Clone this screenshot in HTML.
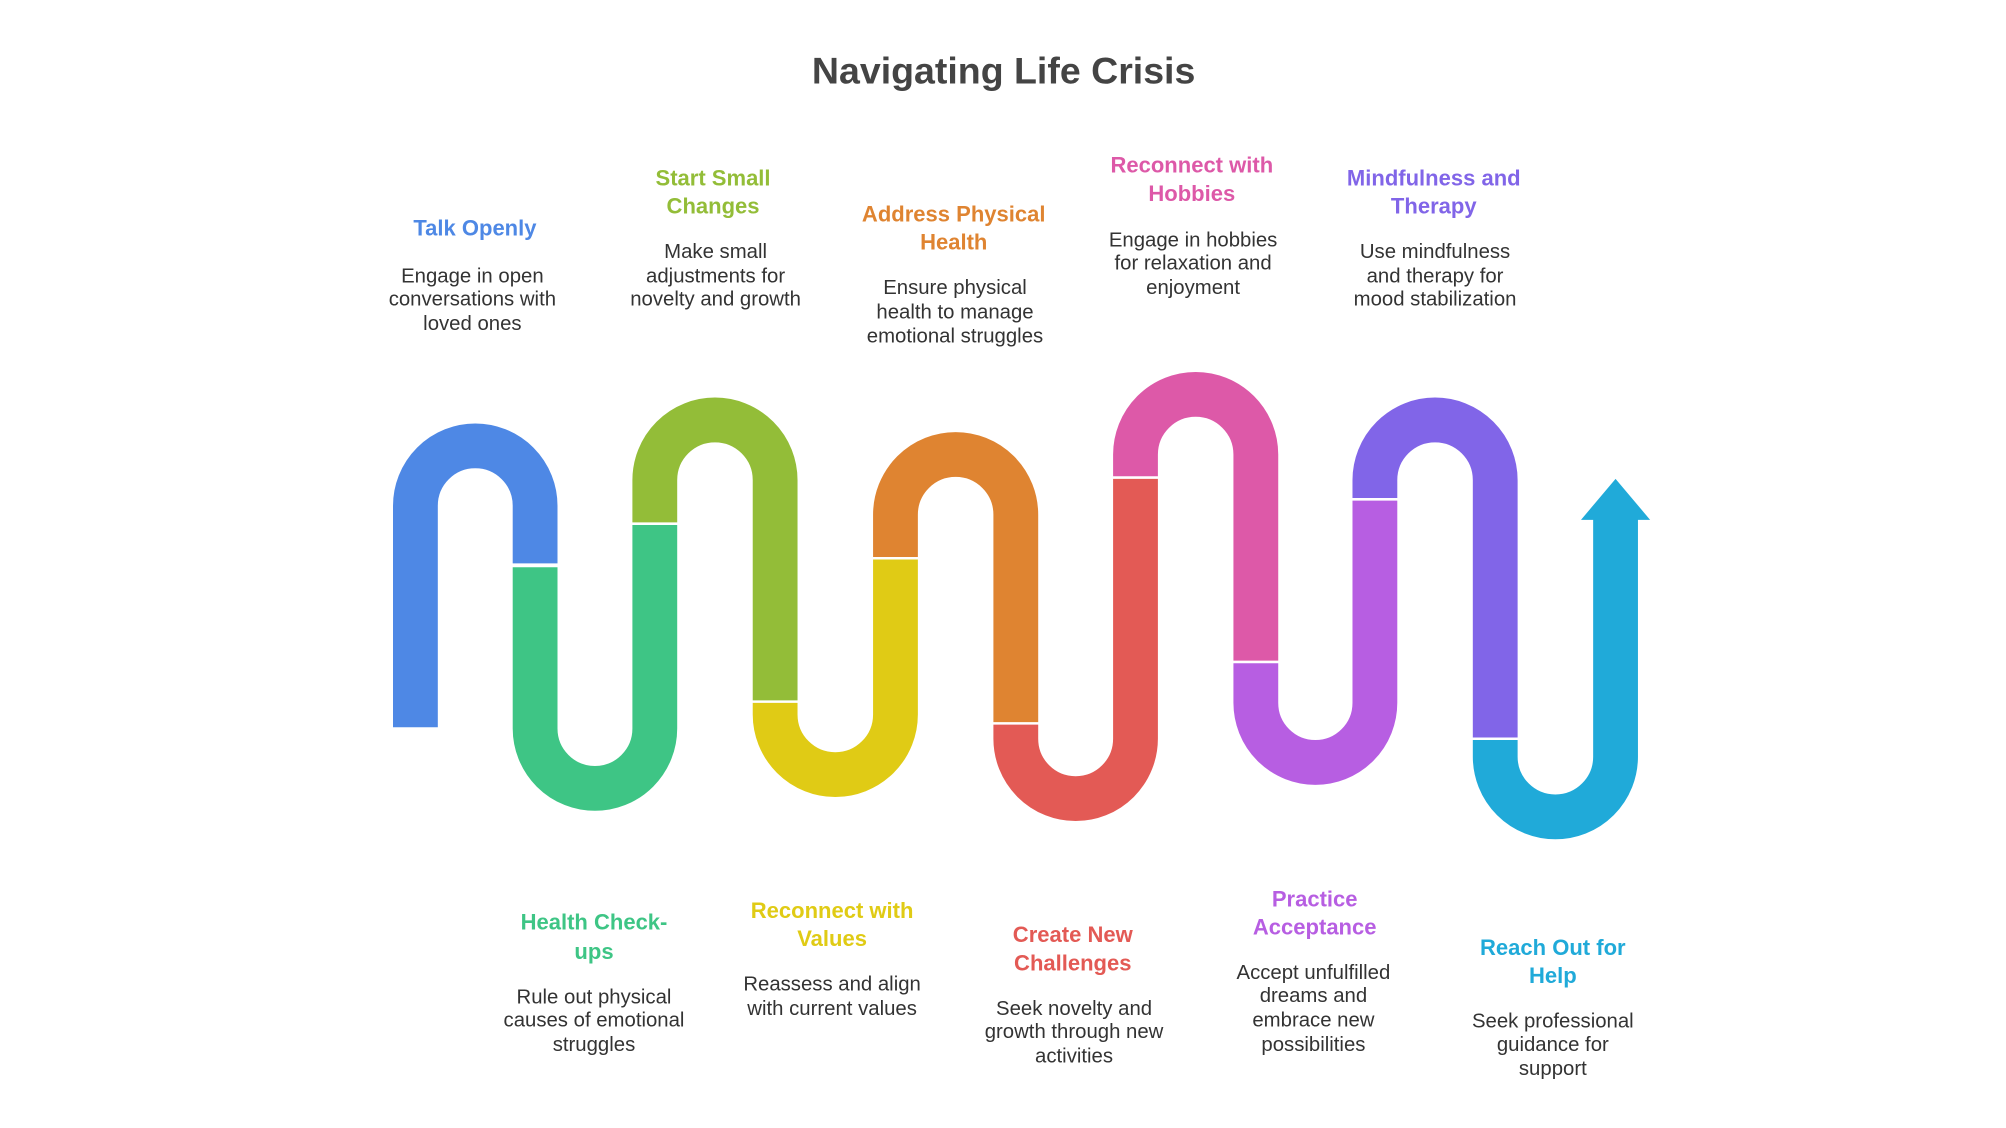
<!DOCTYPE html>
<html><head><meta charset="utf-8"><style>
html,body{margin:0;padding:0;background:#fff;}
svg{display:block;}
text{font-family:"Liberation Sans",sans-serif;text-anchor:middle;dominant-baseline:central;}
.t{font-weight:bold;font-size:17.2px;}
.b{font-size:15.9px;fill:#333;}
</style></head><body>
<svg width="2006" height="1128" viewBox="0 0 1567 881" preserveAspectRatio="none" xmlns="http://www.w3.org/2000/svg">
<text x="784" y="55" style="font-weight:bold;font-size:29.3px;fill:#444">Navigating Life Crisis</text>
<g fill="none" stroke-width="35" stroke-linecap="butt">
<path d="M324.5 568 V395 A46.75 46.75 0 0 1 418 395 V440" stroke="#4E88E5"/>
<path d="M418 443 V569 A46.75 46.75 0 0 0 511.5 569 V410" stroke="#3EC585"/>
<path d="M511.5 408 V375 A47 47 0 0 1 605.5 375 V547" stroke="#93BD38"/>
<path d="M605.5 549 V558 A47 47 0 0 0 699.5 558 V437" stroke="#E0CB15"/>
<path d="M699.5 435 V402 A47 47 0 0 1 793.5 402 V564" stroke="#DF8431"/>
<path d="M793.5 566 V577 A46.75 46.75 0 0 0 887 577 V374" stroke="#E35A55"/>
<path d="M887 372 V355 A47 47 0 0 1 981 355 V516" stroke="#DD59A8"/>
<path d="M981 518 V549 A46.5 46.5 0 0 0 1074 549 V391" stroke="#B75EE2"/>
<path d="M1074 389 V375 A47 47 0 0 1 1168 375 V576" stroke="#8165E8"/>
<path d="M1168 578 V591 A47 47 0 0 0 1262 591 V405" stroke="#20AAD9"/>
</g>
<polygon points="1235,406 1262,374 1289,406" fill="#20AAD9"/>

<text class="t" x="371" y="178" fill="#4E88E5">Talk Openly</text>
<text class="b" x="369" y="216">Engage in open</text>
<text class="b" x="369" y="234">conversations with</text>
<text class="b" x="369" y="253">loved ones</text>

<text class="t" x="557" y="139" fill="#93BD38">Start Small</text>
<text class="t" x="557" y="161" fill="#93BD38">Changes</text>
<text class="b" x="559" y="197">Make small</text>
<text class="b" x="559" y="216">adjustments for</text>
<text class="b" x="559" y="234">novelty and growth</text>

<text class="t" x="745" y="167" fill="#DF8431">Address Physical</text>
<text class="t" x="745" y="189" fill="#DF8431">Health</text>
<text class="b" x="746" y="225">Ensure physical</text>
<text class="b" x="746" y="244">health to manage</text>
<text class="b" x="746" y="263">emotional struggles</text>

<text class="t" x="931" y="129" fill="#DD59A8">Reconnect with</text>
<text class="t" x="931" y="151" fill="#DD59A8">Hobbies</text>
<text class="b" x="932" y="188">Engage in hobbies</text>
<text class="b" x="932" y="206">for relaxation and</text>
<text class="b" x="932" y="225">enjoyment</text>

<text class="t" x="1120" y="139" fill="#8165E8">Mindfulness and</text>
<text class="t" x="1120" y="161" fill="#8165E8">Therapy</text>
<text class="b" x="1121" y="197">Use mindfulness</text>
<text class="b" x="1121" y="216">and therapy for</text>
<text class="b" x="1121" y="234">mood stabilization</text>

<text class="t" x="464" y="720" fill="#3EC585">Health Check-</text>
<text class="t" x="464" y="743" fill="#3EC585">ups</text>
<text class="b" x="464" y="779">Rule out physical</text>
<text class="b" x="464" y="797">causes of emotional</text>
<text class="b" x="464" y="816">struggles</text>

<text class="t" x="650" y="711" fill="#E0CB15">Reconnect with</text>
<text class="t" x="650" y="733" fill="#E0CB15">Values</text>
<text class="b" x="650" y="769">Reassess and align</text>
<text class="b" x="650" y="788">with current values</text>

<text class="t" x="838" y="730" fill="#E35A55">Create New</text>
<text class="t" x="838" y="752" fill="#E35A55">Challenges</text>
<text class="b" x="839" y="788">Seek novelty and</text>
<text class="b" x="839" y="806">growth through new</text>
<text class="b" x="839" y="825">activities</text>

<text class="t" x="1027" y="702" fill="#B75EE2">Practice</text>
<text class="t" x="1027" y="724" fill="#B75EE2">Acceptance</text>
<text class="b" x="1026" y="760">Accept unfulfilled</text>
<text class="b" x="1026" y="778">dreams and</text>
<text class="b" x="1026" y="797">embrace new</text>
<text class="b" x="1026" y="816">possibilities</text>

<text class="t" x="1213" y="740" fill="#20AAD9">Reach Out for</text>
<text class="t" x="1213" y="762" fill="#20AAD9">Help</text>
<text class="b" x="1213" y="798">Seek professional</text>
<text class="b" x="1213" y="816">guidance for</text>
<text class="b" x="1213" y="835">support</text>
</svg>
</body></html>
